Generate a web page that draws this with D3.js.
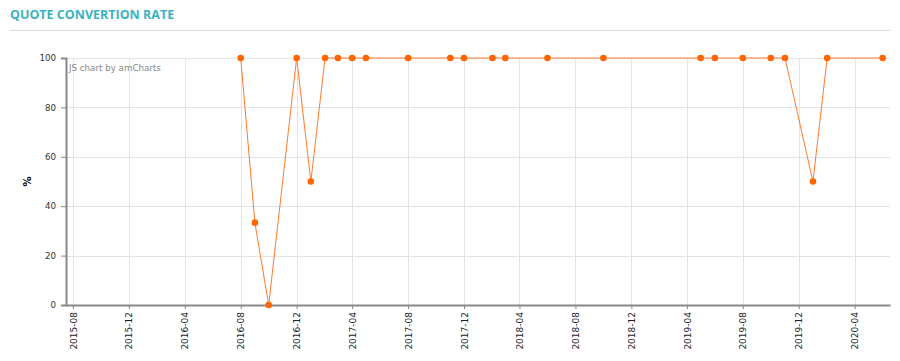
<!DOCTYPE html>
<meta charset="utf-8">
<script src="https://d3js.org/d3.v7.min.js"></script>
<style>
  body { margin: 0; background: #fff; }
  svg text { font-family: "DejaVu Sans", Verdana, sans-serif; }
</style>
<div id="chart"></div>
<script>
// data
var months = ["2016-08", "2016-09", "2016-10", "2016-12", "2017-01", "2017-02", "2017-03", "2017-04",
  "2017-05", "2017-08", "2017-11", "2017-12", "2018-02", "2018-03", "2018-06", "2018-10",
  "2019-05", "2019-06", "2019-08", "2019-10", "2019-11", "2020-01", "2020-02", "2020-06"];
var rates = [100, 33.33, 0, 100, 50, 100, 100, 100,
  100, 100, 100, 100, 100, 100, 100, 100,
  100, 100, 100, 100, 100, 50, 100, 100];
var xTickLabels = ["2015-08", "2015-12", "2016-04", "2016-08", "2016-12", "2017-04", "2017-08",
  "2017-12", "2018-04", "2018-08", "2018-12", "2019-04", "2019-08", "2019-12", "2020-04"];
var yTicks = [0, 20, 40, 60, 80, 100];

var width = 900, height = 361;
var plot = {left: 66, right: 890, top: 58, bottom: 305};

var parse = d3.timeParse("%Y-%m");
var data = months.map((m, i) => ({date: parse(m), value: rates[i]}));

var svg = d3.select("#chart").append("svg")
  .attr("width", width)
  .attr("height", height);

// title + rule
svg.append("text")
  .attr("x", 10).attr("y", 19)
  .style("font-family", "'Open Sans', sans-serif")
  .style("font-weight", "bold")
  .style("font-size", "12.5px")
  .attr("fill", "#3ab3c0")
  .text("QUOTE CONVERTION RATE");
svg.append("line")
  .attr("x1", 10).attr("x2", 890)
  .attr("y1", 30.5).attr("y2", 30.5)
  .attr("stroke", "#dddddd");

var x = d3.scaleTime()
  .domain([new Date(2015, 6, 17), new Date(2020, 5, 17)])
  .range([plot.left, plot.right]);
var y = d3.scaleLinear()
  .domain([0, 100])
  .range([plot.bottom, plot.top]);

var tickDates = xTickLabels.map(parse);

// grid
svg.append("g").selectAll("line")
  .data(yTicks).join("line")
  .attr("x1", plot.left).attr("x2", plot.right)
  .attr("y1", d => Math.round(y(d)) + 0.5).attr("y2", d => Math.round(y(d)) + 0.5)
  .attr("stroke", "#e3e3e3");
svg.append("g").selectAll("line")
  .data(tickDates).join("line")
  .attr("x1", d => Math.round(x(d)) + 0.5).attr("x2", d => Math.round(x(d)) + 0.5)
  .attr("y1", plot.top).attr("y2", plot.bottom)
  .attr("stroke", "#e3e3e3");

// watermark
svg.append("text")
  .attr("x", 69).attr("y", 71)
  .style("font-size", "8.7px")
  .attr("fill", "#888")
  .text("JS chart by amCharts");

// y axis
var yAxis = svg.append("g")
  .attr("transform", "translate(" + plot.left + ",0)")
  .call(d3.axisLeft(y).tickValues(yTicks).tickSize(5).tickPadding(5));
yAxis.select(".domain").attr("stroke", "#888").attr("stroke-width", 2);
yAxis.selectAll(".tick line").attr("stroke", "#888");
yAxis.selectAll("text").style("font-size", "8.7px").attr("fill", "#333");

svg.append("text")
  .attr("transform", "translate(31," + (plot.top + plot.bottom) / 2 + ")rotate(-90)")
  .attr("text-anchor", "middle")
  .style("font-size", "10px")
  .style("font-weight", "bold")
  .attr("fill", "#000")
  .text("%");

// x axis
var xAxis = svg.append("g")
  .attr("transform", "translate(0," + plot.bottom + ")")
  .call(d3.axisBottom(x).tickValues(tickDates).tickSize(4).tickSizeOuter(0)
    .tickFormat(d3.timeFormat("%Y-%m")));
xAxis.select(".domain").attr("stroke", "#888").attr("stroke-width", 2);
xAxis.selectAll(".tick line").attr("stroke", "#888");
xAxis.selectAll("text")
  .style("font-size", "9px")
  .attr("fill", "#1a1a2a")
  .attr("text-anchor", "end")
  .attr("transform", "rotate(-90)")
  .attr("x", -7).attr("y", 0).attr("dy", "0.35em");

// line + dots
svg.append("path")
  .datum(data)
  .attr("fill", "none")
  .attr("stroke", "#ff7a2e")
  .attr("stroke-width", 1)
  .attr("d", d3.line().x(d => x(d.date)).y(d => y(d.value)));

svg.append("g").selectAll("circle")
  .data(data).join("circle")
  .attr("cx", d => x(d.date))
  .attr("cy", d => y(d.value))
  .attr("r", 3.3)
  .attr("fill", "#ff6600");
</script>
